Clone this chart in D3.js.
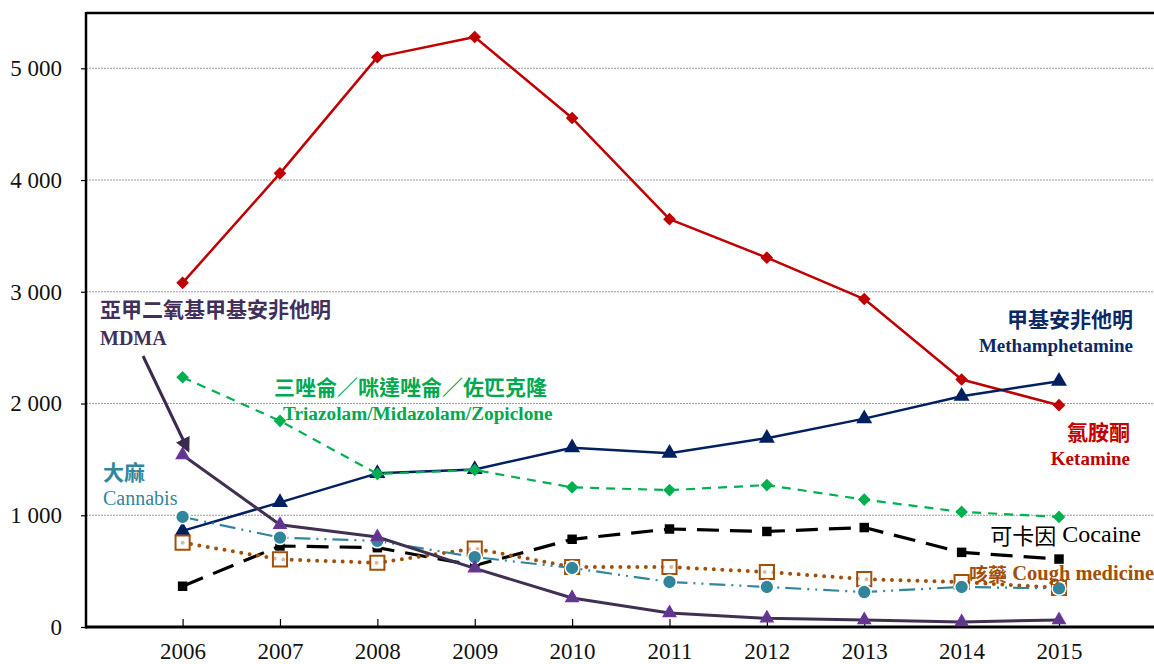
<!DOCTYPE html>
<html><head><meta charset="utf-8">
<script src="https://cdn.jsdelivr.net/npm/d3@7"></script>
<style>body{margin:0;background:#fff}svg{display:block}</style>
</head><body>
<svg id="c" width="1154" height="664"></svg>
<script>
const years = [2006,2007,2008,2009,2010,2011,2012,2013,2014,2015];
const ketamine = [3080,4060,5100,5280,4555,3650,3305,2935,2215,1985];
const methamphetamine = [860,1115,1375,1410,1605,1555,1690,1865,2065,2200];
const triazolam = [2235,1845,1370,1405,1250,1225,1270,1140,1030,985];
const mdma = [1540,915,805,525,260,125,78,63,45,63];
const cocaine = [365,725,710,550,785,877,855,890,668,608];
const cannabis = [985,800,770,626,528,403,358,313,358,345];
const cough = [755,605,575,702,537,537,492,429,403,349];
const yTicks = [0,1000,2000,3000,4000,5000];

const svg = d3.select("#c");
const L = 86, R = 1154, T = 13, B = 627;
const x = d3.scalePoint().domain(years).range([182.6, 1059]);
const y = d3.scaleLinear().domain([0,5000]).range([B, 68.3]);
const fmt = d3.formatLocale({decimal:".", thousands:" ", grouping:[3], currency:["",""]}).format(",");

// gridlines
svg.append("g").selectAll("line").data(yTicks.filter(d=>d>0)).join("line")
  .attr("x1",L).attr("x2",R).attr("y1",d=>y(d)).attr("y2",d=>y(d))
  .attr("stroke","#9a9a9a").attr("stroke-width",1).attr("stroke-dasharray","2,1");

// y axis
const ya = svg.append("g").attr("transform",`translate(${L},0)`)
  .call(d3.axisLeft(y).tickValues(yTicks).tickSize(5).tickPadding(19).tickFormat(fmt));
ya.select(".domain").remove();
ya.selectAll("line").attr("stroke","#000").attr("stroke-width",1.2);
ya.selectAll("text").attr("font-family","'Liberation Serif', serif").attr("font-size",23).attr("fill","#111");

// x axis
const xa = svg.append("g").attr("transform",`translate(0,${B})`)
  .call(d3.axisBottom(x).tickSize(-8).tickPadding(11).tickFormat(d3.format("d")));
xa.select(".domain").remove();
xa.selectAll("line").attr("stroke","#000").attr("stroke-width",1.2);
xa.selectAll("text").attr("font-family","'Liberation Serif', serif").attr("font-size",23).attr("fill","#111").attr("dy","0.9em");

// frame
svg.append("line").attr("x1",L).attr("x2",R).attr("y1",T).attr("y2",T).attr("stroke","#000").attr("stroke-width",2.5);
svg.append("line").attr("x1",L).attr("x2",L).attr("y1",T-1).attr("y2",B+1.5).attr("stroke","#000").attr("stroke-width",2.5);
svg.append("line").attr("x1",L).attr("x2",R).attr("y1",B).attr("y2",B).attr("stroke","#000").attr("stroke-width",3);

const line = d3.line().x((d,i)=>x(years[i])).y(d=>y(d));

function series(vals, o){
  const g = svg.append("g");
  g.append("path").attr("d", line(vals)).attr("fill","none")
    .attr("stroke",o.color).attr("stroke-width",o.w)
    .attr("stroke-dasharray",o.dash||null).attr("stroke-linecap",o.cap||"butt").attr("stroke-linejoin","round");
  const pts = g.selectAll(".m").data(vals).join("path")
    .attr("transform",(d,i)=>`translate(${x(years[i])},${y(d)})`);
  if(o.marker==="diamond") pts.attr("d",d3.symbol(d3.symbolSquare, 80)()).attr("transform",(d,i)=>`translate(${x(years[i])},${y(d)}) rotate(45)`).attr("fill",o.mcolor||o.color);
  else if(o.marker==="triangle") pts.attr("d",d3.symbol(d3.symbolTriangle, o.msize||90)()).attr("fill",o.mcolor||o.color).attr("stroke",o.mstroke||"none").attr("stroke-width",1.5);
  else if(o.marker==="square") pts.attr("d",d3.symbol(d3.symbolSquare, 90)()).attr("fill",o.color);
  else if(o.marker==="hsquare") pts.attr("d",d3.symbol(d3.symbolSquare, 200)()).attr("fill","#fff").attr("fill-opacity",0.6).attr("stroke",o.color).attr("stroke-width",2);
  else if(o.marker==="circle") pts.attr("d",d3.symbol(d3.symbolCircle, 150)()).attr("fill",o.color).attr("stroke","#fff").attr("stroke-width",1.5);
}

series(ketamine,{color:"#c00000",w:2.5,marker:"diamond"});
series(methamphetamine,{color:"#002060",w:2.5,marker:"triangle",msize:110});
series(triazolam,{color:"#00b050",w:2.2,dash:"9,7",marker:"diamond"});
series(cocaine,{color:"#000",w:3.2,dash:"22,11",marker:"square"});
series(cough,{color:"#a0500a",w:4,dash:"0,8.5",cap:"round",marker:"hsquare"});
series(cannabis,{color:"#31869b",w:2.2,dash:"16,6,2,6,2,6",marker:"circle"});
series(mdma,{color:"#403152",w:3,marker:"triangle",mcolor:"#5b3a85",mstroke:"#7030a0",msize:65});

// arrow
svg.append("defs").append("marker").attr("id","ah").attr("viewBox","0 0 10 10").attr("refX",8).attr("refY",5)
  .attr("markerWidth",5).attr("markerHeight",5).attr("orient","auto")
  .append("path").attr("d","M0,0L10,5L0,10z").attr("fill","#3b2a4f");
svg.append("line").attr("x1",143).attr("y1",356).attr("x2",188).attr("y2",450)
  .attr("stroke","#3b2a4f").attr("stroke-width",3).attr("marker-end","url(#ah)");

// labels
const cjk = "'Noto Sans CJK TC', 'Noto Sans CJK SC', sans-serif";
const ser = "'Liberation Serif', serif";
function lab(t,xp,yp,col,fam,size,anchor,weight){
  return svg.append("text").attr("x",xp).attr("y",yp).attr("fill",col).attr("font-family",fam).attr("font-size",size)
    .attr("font-weight",weight||"bold").attr("text-anchor",anchor||"start").attr("dominant-baseline","central").text(t);
}
function lab2(t1,t2,xp,yp,col,size1,size2,anchor,w1,w2){
  const t = svg.append("text").attr("x",xp).attr("y",yp).attr("fill",col)
    .attr("text-anchor",anchor).attr("dominant-baseline","central");
  t.append("tspan").attr("font-family",cjk).attr("font-size",size1).attr("font-weight",w1).text(t1);
  t.append("tspan").attr("font-family",ser).attr("font-size",size2).attr("font-weight",w2).text(" "+t2);
}
lab("亞甲二氧基甲基安非他明",100,308,"#40305a",cjk,21);
lab("MDMA",100,338,"#40305a",ser,20);
lab("三唑侖／咪達唑侖／佐匹克隆",274,386,"#00a84f",cjk,21);
lab("Triazolam/Midazolam/Zopiclone",283,413,"#00a84f",ser,19.3);
lab("甲基安非他明",1133,318,"#0a2a66",cjk,21,"end");
lab("Methamphetamine",1133,345,"#0a2a66",ser,19,"end");
lab("氯胺酮",1130,431,"#c00000",cjk,21,"end");
lab("Ketamine",1130,458,"#c00000",ser,19,"end");
lab("大麻",103,471,"#31869b",cjk,21);
lab("Cannabis",103,498,"#31869b",ser,20,"start","normal");
lab2("可卡因","Cocaine",1141,534,"#000",22,24,"end","normal","normal");
lab2("咳藥","Cough medicine",1154,573,"#a0500a",19,20.5,"end","bold","bold");
</script>
</body></html>
